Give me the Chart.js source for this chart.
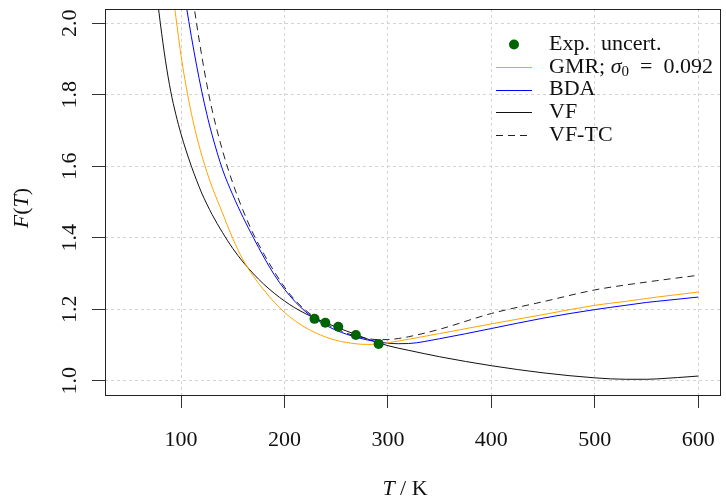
<!DOCTYPE html>
<html>
<head>
<meta charset="utf-8">
<script src="https://cdn.jsdelivr.net/npm/chart.js@4.4.1/dist/chart.umd.min.js"></script>
<style>
  html, body { margin: 0; padding: 0; background: #fff; }
  #c { display: block; }
</style>
</head>
<body>
<canvas id="c" width="726" height="504"></canvas>
<script>
// ---- data ----
const T = [70, 75, 80, 85, 90, 95, 100, 105, 110, 115, 120, 125, 130, 140, 150, 160, 170, 180, 190, 200,
           210, 220, 230, 240, 250, 260, 270, 280, 290, 300, 310, 320, 350, 400, 450, 500, 530, 550, 560, 600];

const gmr = [null, null, null, null, 2.13, 2.018, 1.91, 1.822, 1.748, 1.685, 1.631, 1.584, 1.542, 1.47, 1.398, 1.338, 1.292, 1.254, 1.22, 1.191,
             1.168, 1.149, 1.134, 1.122, 1.113, 1.107, 1.103, 1.1015, 1.1025, 1.106, 1.111, 1.116, 1.132, 1.159, 1.185, 1.211, 1.222, 1.230, 1.234, 1.248];

const bda = [null, null, null, null, null, null, 2.145, 2.05, 1.963, 1.883, 1.81, 1.745, 1.688, 1.592, 1.52, 1.457, 1.40, 1.346, 1.297, 1.256,
             1.222, 1.194, 1.172, 1.155, 1.141, 1.13, 1.121, 1.114, 1.1085, 1.105, 1.1035, 1.104, 1.1175, 1.146, 1.175, 1.199, 1.211, 1.219, 1.222, 1.234];

const vf = [2.25, 2.12, 2.00, 1.895, 1.81, 1.745, 1.69, 1.643, 1.60, 1.561, 1.525, 1.494, 1.465, 1.415, 1.37, 1.332, 1.299, 1.27, 1.245, 1.223,
            1.204, 1.188, 1.174, 1.162, 1.150, 1.139, 1.128, 1.117, 1.107, 1.098, 1.091, 1.085, 1.067, 1.042, 1.022, 1.008, 1.004, 1.004, 1.005, 1.013];

const vftc = [null, null, null, null, null, null, null, null, 2.10, 2.0, 1.91, 1.828, 1.758, 1.645, 1.553, 1.476, 1.41, 1.355, 1.306, 1.262,
              1.226, 1.198, 1.176, 1.159, 1.145, 1.133, 1.124, 1.118, 1.115, 1.115, 1.118, 1.123, 1.144, 1.188, 1.221, 1.254, 1.268, 1.276, 1.280, 1.295];

const expT = [229, 239.5, 252, 269, 291];
const expF = [1.173, 1.162, 1.151, 1.128, 1.103];

const xTicks = [100, 200, 300, 400, 500, 600];
const yTicks = [1.0, 1.2, 1.4, 1.6, 1.8, 2.0];

const names = ["Exp. uncert.", "GMR; σ0 = 0.092", "BDA", "VF", "VF-TC"];

// ---- helpers ----
const FONT = '"Liberation Serif", "DejaVu Serif", serif';
const FS = 22;
const pts = (xs, ys) => xs.map((x, i) => ({ x: x, y: ys[i] }));

// parts: [text, style]  style: "" roman, "i" italic, "s" subscript
function drawRich(ctx, parts, x, y, align) {
  const fontOf = (s) => (s === "i" ? "italic " : "") + (s === "s" ? Math.round(FS * 0.7) : FS) + "px " + FONT;
  let w = 0;
  parts.forEach(([t, s]) => { ctx.font = fontOf(s); w += ctx.measureText(t).width; });
  let cx = align === "center" ? x - w / 2 : x;
  ctx.textAlign = "left";
  ctx.textBaseline = "middle";
  parts.forEach(([t, s]) => {
    ctx.font = fontOf(s);
    ctx.fillText(t, cx, y + (s === "s" ? 5 : 0));
    cx += ctx.measureText(t).width;
  });
}

const legendParts = [
  [["Exp.  uncert.", ""]],
  [["GMR; ", ""], ["σ", "i"], ["0", "s"], ["  =  0.092", ""]],
  [["BDA", ""]],
  [["VF", ""]],
  [["VF-TC", ""]]
];

// ---- frame, labels, legend ----
const decor = {
  id: "decor",
  afterDraw(chart) {
    const ctx = chart.ctx;
    const a = chart.chartArea;
    const xs = chart.scales.x, ys = chart.scales.y;
    ctx.save();
    // box
    ctx.strokeStyle = "#222";
    ctx.lineWidth = 1;
    ctx.strokeRect(Math.round(a.left) + 0.5, Math.round(a.top) + 0.5, Math.round(a.right - a.left) - 1, Math.round(a.bottom - a.top));

    ctx.fillStyle = "#111";
    // x tick labels
    xTicks.forEach(v => drawRich(ctx, [[String(v), ""]], xs.getPixelForValue(v), 440, "center"));
    // y tick labels, rotated
    yTicks.forEach(v => {
      ctx.save();
      ctx.translate(70, ys.getPixelForValue(v));
      ctx.rotate(-Math.PI / 2);
      drawRich(ctx, [[v.toFixed(1), ""]], 0, 0, "center");
      ctx.restore();
    });
    // axis titles
    drawRich(ctx, [["T", "i"], [" / K", ""]], 405, 489, "center");
    ctx.save();
    ctx.translate(22, 208);
    ctx.rotate(-Math.PI / 2);
    drawRich(ctx, [["F", "i"], ["(", ""], ["T", "i"], [")", ""]], 0, 0, "center");
    ctx.restore();

    // legend
    const x0 = 496, x1 = 532, tx = 549;
    chart.data.datasets.forEach((ds, i) => {
      const y = 44.5 + i * 22.6;
      if (ds.showLine === false) {
        ctx.beginPath();
        ctx.fillStyle = ds.backgroundColor;
        ctx.arc((x0 + x1) / 2, y, ds.pointRadius, 0, Math.PI * 2);
        ctx.fill();
      } else {
        ctx.beginPath();
        ctx.strokeStyle = ds.borderColor;
        ctx.lineWidth = ds.borderWidth;
        ctx.setLineDash(ds.borderDash || []);
        ctx.moveTo(x0, Math.round(y) + 0.5);
        ctx.lineTo(x1, Math.round(y) + 0.5);
        ctx.stroke();
        ctx.setLineDash([]);
      }
      ctx.fillStyle = "#111";
      drawRich(ctx, legendParts[i], tx, y, "left");
    });
    ctx.restore();
  }
};

const lineDs = (label, ys, color, dash) => ({
  type: "line",
  label: label,
  data: pts(T, ys),
  borderColor: color,
  backgroundColor: color,
  borderWidth: 1,
  borderDash: dash || [],
  pointRadius: 0,
  cubicInterpolationMode: "monotone",
  spanGaps: false,
  fill: false
});

new Chart(document.getElementById("c"), {
  type: "scatter",
  data: {
    datasets: [
      {
        label: names[0],
        data: pts(expT, expF),
        showLine: false,
        pointRadius: 5,
        pointHoverRadius: 5,
        pointBorderWidth: 0,
        backgroundColor: "#006400",
        borderColor: "#006400"
      },
      lineDs(names[1], gmr, "#FFA500"),
      lineDs(names[2], bda, "#0000FF"),
      lineDs(names[3], vf, "#111111"),
      lineDs(names[4], vftc, "#222222", [7, 5])
    ]
  },
  options: {
    responsive: false,
    devicePixelRatio: 1,
    animation: false,
    events: [],
    layout: { padding: { top: 9, right: 1, left: 0, bottom: 0 } },
    plugins: { legend: { display: false }, tooltip: { enabled: false } },
    scales: {
      x: {
        type: "linear",
        min: 26.5,
        max: 622,
        afterBuildTicks: (s) => { s.ticks = xTicks.map(v => ({ value: v })); },
        afterFit: (s) => { s.height = 109; },
        ticks: { display: false },
        border: { display: false, dash: [3, 3] },
        grid: { color: "#d3d3d3", lineWidth: 1, tickLength: 13, tickColor: "#333", tickWidth: 1 }
      },
      y: {
        type: "linear",
        min: 0.96,
        max: 2.04,
        afterBuildTicks: (s) => { s.ticks = yTicks.map(v => ({ value: v })); },
        afterFit: (s) => { s.width = 105; },
        ticks: { display: false },
        border: { display: false, dash: [3, 3] },
        grid: { color: "#d3d3d3", lineWidth: 1, tickLength: 13, tickColor: "#333", tickWidth: 1 }
      }
    }
  },
  plugins: [decor]
});
</script>
</body>
</html>
